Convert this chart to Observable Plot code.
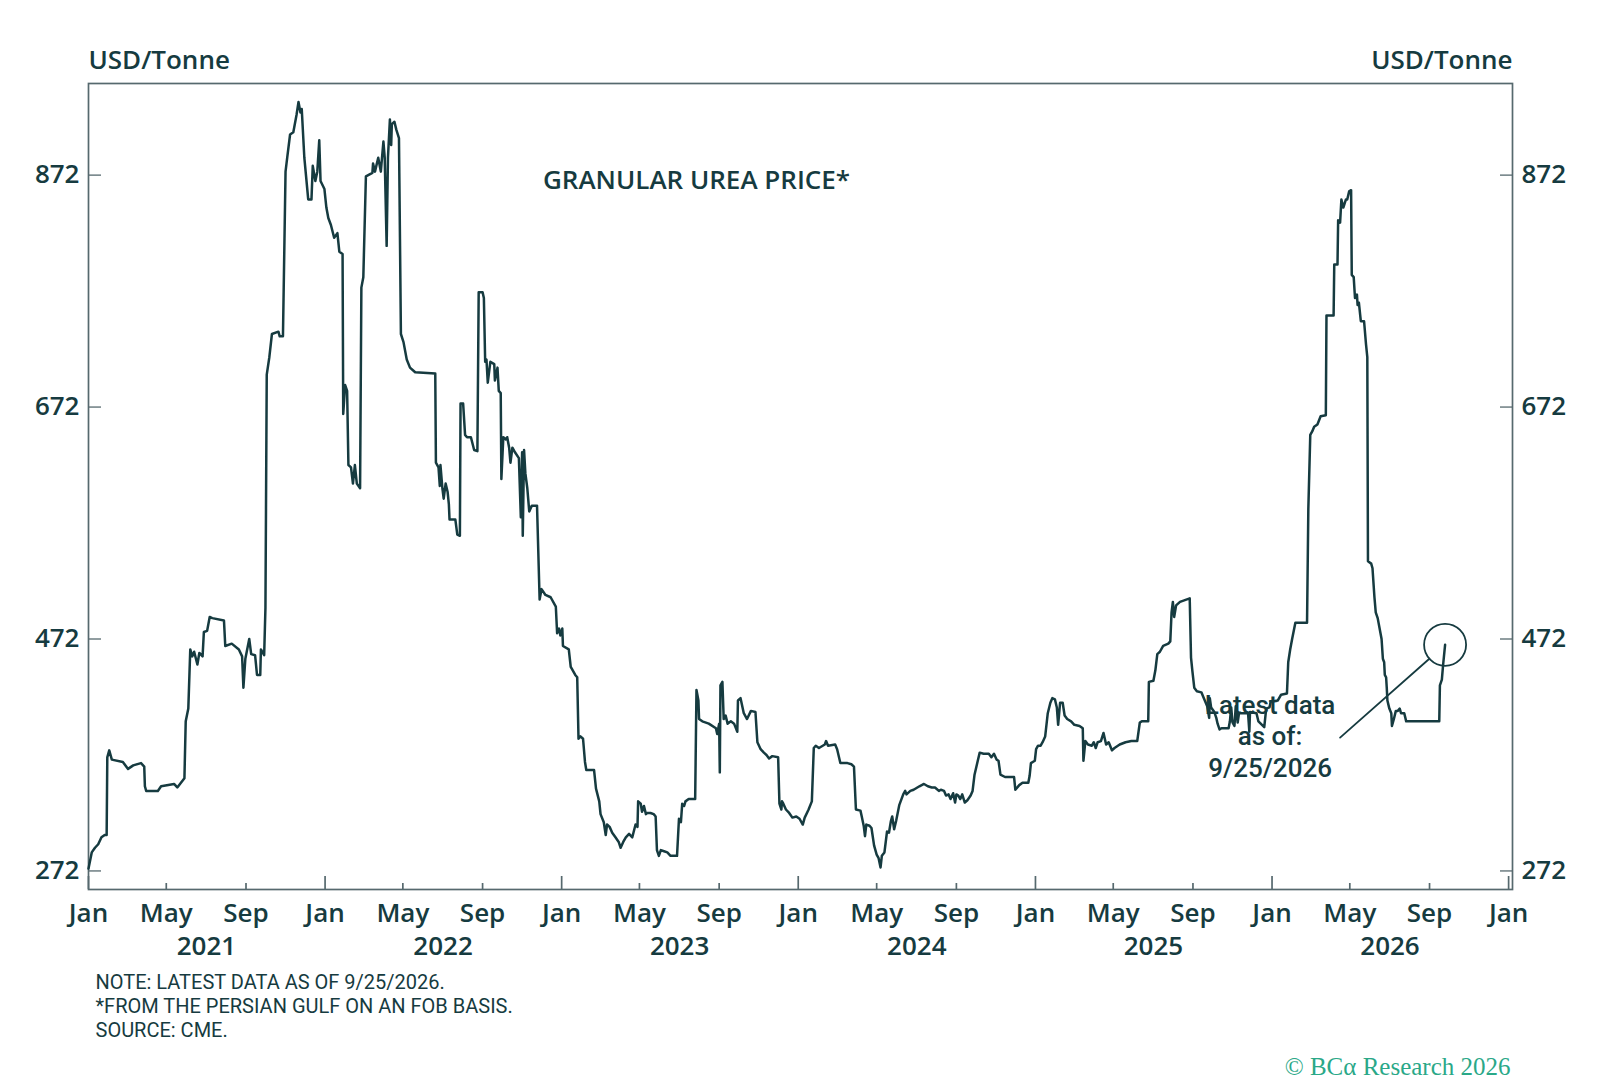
<!DOCTYPE html>
<html>
<head>
<meta charset="utf-8">
<script src="https://cdn.jsdelivr.net/npm/d3@7"></script>
<script src="https://cdn.jsdelivr.net/npm/@observablehq/plot@0.6"></script>
<style>
  html, body { margin: 0; padding: 0; background: #ffffff; }
  #chart { width: 1600px; height: 1080px; }
</style>
</head>
<body>
<div id="chart"></div>
<script>
// ---------- DATA ----------
const md2021 = ["01-01","01-06","01-11","01-16","01-21","01-26","01-29","01-30","02-02","02-06",
  "02-23","03-03","03-11","03-23","03-28","03-29","03-31","04-18","04-23","05-13",
  "05-18","05-29","05-31","06-04","06-07","06-10","06-13","06-18","06-21","06-26",
  "06-28","07-03","07-07","07-11","07-29","07-31","08-10","08-21","08-26","08-28",
  "08-31","09-06","09-09","09-15","09-18","09-23","09-24","09-29","10-01","10-03",
  "10-07","10-11","10-21","10-23","10-28","11-01","11-04","11-08","11-13","11-18",
  "11-21","11-24","11-26","11-30","12-06","12-11","12-13","12-17","12-20","12-23",
  "12-25","12-31"];
const usd2021 = [274,288,292,295,301,303,303,370,376,368,
  366,360,363,365,362,345,341,341,345,347,
  344,352,401,412,463,457,461,450,460,457,
  478,479,491,490,488,466,468,463,457,430,
  455,472,459,458,441,441,463,458,499,700,
  715,735,737,733,733,875,889,907,909,924,
  935,926,929,887,851,851,880,867,875,902,
  867,860];

const md2022 = ["01-03","01-06","01-10","01-15","01-20","01-23","01-28","01-29","02-01","02-04",
  "02-06","02-10","02-13","02-16","02-19","02-24","02-26","03-01","03-05","03-15",
  "03-16","03-19","03-24","03-28","04-01","04-03","04-06","04-08","04-11","04-13",
  "04-14","04-18","04-21","04-25","04-28","05-02","05-07","05-12","05-20","06-20",
  "06-21","06-25","06-27","06-28","07-01","07-03","07-06","07-09","07-11","07-12",
  "07-21","07-24","07-28","07-29","08-02","08-05","08-08","08-14","08-19","08-24",
  "08-26","09-01","09-03","09-05","09-07","09-09","09-13","09-19","09-20","09-24",
  "09-26","09-29","09-30","10-03","10-07","10-09","10-12","10-14","10-17","10-21",
  "10-27","10-30","11-01","11-02","11-04","11-06","11-09","11-12","11-16","11-24",
  "11-28","12-01","12-07","12-15","12-23","12-25","12-28","12-30"];
const usd2022 = [844,835,829,818,822,806,804,666,691,686,
  622,620,606,622,606,602,775,784,871,874,
  882,875,887,875,901,887,811,887,920,898,
  916,918,911,904,735,728,713,706,702,701,
  624,620,604,622,602,593,606,599,588,575,
  575,562,561,675,675,648,646,646,635,634,
  771,771,766,711,713,693,711,709,695,706,
  686,684,610,646,644,646,637,624,637,633,
  628,577,633,561,635,615,602,582,587,587,
  506,515,510,508,500,477,481,475];

const md2023 = ["01-02","01-03","01-12","01-15","01-17","01-22","01-25","01-27","01-30","02-03",
  "02-06","02-08","02-20","02-23","02-28","03-02","03-07","03-10","03-12","03-16",
  "03-20","03-25","03-30","04-02","04-06","04-10","04-15","04-20","04-25","04-28",
  "04-29","05-03","05-05","05-08","05-11","05-13","05-18","05-23","05-26","05-28",
  "05-31","06-03","06-08","06-13","06-18","06-28","07-01","07-04","07-06","07-09",
  "07-11","07-16","07-26","07-28","07-31","08-01","08-06","08-16","08-27","08-29",
  "09-01","09-02","09-03","09-06","09-08","09-11","09-14","09-19","09-24","09-29",
  "09-30","10-04","10-09","10-14","10-20","10-27","10-30","11-04","11-09","11-13",
  "11-17","11-22","12-01","12-03","12-06","12-07","12-09","12-13","12-18","12-23",
  "12-29"];
const usd2023 = [481,466,463,448,446,441,439,386,388,386,
  366,359,359,343,332,321,314,303,312,310,
  305,301,297,292,297,301,304,301,312,310,
  332,330,323,328,321,322,322,321,319,290,
  285,290,289,288,285,285,317,314,330,328,
  332,334,334,428,419,403,401,399,395,390,
  399,357,432,435,403,406,399,401,399,392,
  419,421,408,403,410,409,383,377,374,372,
  369,371,370,330,325,332,330,325,322,318,
  319];

const md2024 = ["01-03","01-08","01-11","01-17","01-22","01-25","01-28","02-02","02-11","02-13",
  "02-16","02-27","03-01","03-06","03-17","03-23","03-27","03-30","04-06","04-08",
  "04-11","04-13","04-15","04-20","04-23","04-27","05-01","05-04","05-07","05-09",
  "05-13","05-17","05-20","05-23","05-25","05-28","05-31","06-05","06-11","06-14",
  "06-16","06-22","06-27","07-06","07-13","07-19","07-25","07-30","08-05","08-08",
  "08-13","08-16","08-20","08-23","08-27","08-30","09-01","09-04","09-07","09-10",
  "09-14","09-18","09-23","09-26","09-29","10-04","10-07","10-13","10-21","10-25",
  "10-29","11-02","11-05","11-08","11-15","11-29","12-01","12-07","12-12","12-21",
  "12-23","12-25","12-31"];
const usd2024 = [317,312,318,325,332,378,380,378,381,384,
  380,381,377,365,365,364,362,325,324,319,
  311,302,312,311,309,294,286,283,275,285,
  288,306,305,315,319,308,315,329,338,341,
  338,341,342,345,347,345,344,344,341,342,
  341,337,338,334,339,331,338,337,334,338,
  331,333,337,341,355,367,374,373,373,370,
  373,368,367,355,353,353,342,346,348,348,
  354,365,367];

const md2025 = ["01-02","01-05","01-09","01-12","01-16","01-20","01-24","01-27","01-31","02-03",
  "02-05","02-08","02-12","02-15","02-19","02-25","03-02","03-10","03-15","03-16",
  "03-19","03-23","03-29","04-01","04-04","04-07","04-12","04-16","04-20","04-24",
  "04-29","05-03","05-11","05-20","05-29","06-07","06-11","06-14","06-24","06-25",
  "07-02","07-05","07-08","07-12","07-17","07-25","07-28","07-30","08-01","08-03",
  "08-06","08-12","08-27","08-29","08-31","09-03","09-07","09-14","09-17","09-23",
  "09-26","09-27","09-29","10-04","10-07","10-09","10-12","10-15","10-26","10-28",
  "10-30","11-01","11-04","11-06","11-09","11-11","11-25","11-27","11-28","12-08",
  "12-11","12-20","12-23","12-28","12-30"];
const usd2025 = [377,380,380,383,388,408,417,421,420,413,
  398,417,417,406,403,401,398,397,395,367,
  384,381,380,383,378,383,384,391,381,383,
  376,378,381,383,384,384,400,401,401,435,
  436,445,459,461,466,468,470,495,504,491,
  501,504,507,456,445,430,427,426,422,414,
  404,421,413,409,404,399,394,395,395,401,
  413,400,397,414,400,408,408,392,409,408,
  401,396,412,413,418];

const md2026 = ["01-10","01-15","01-24","01-26","01-29","02-01","02-06","02-24","02-26","03-01",
  "03-04","03-07","03-12","03-17","03-25","03-26","04-06","04-07","04-12","04-13",
  "04-16","04-18","04-21","04-25","04-27","04-30","05-03","05-04","05-07","05-09",
  "05-12","05-13","05-15","05-18","05-23","05-26","05-28","05-29","06-03","06-05",
  "06-08","06-10","06-13","06-19","06-21","06-23","06-24","06-26","06-27","06-28",
  "07-01","07-04","07-05","07-08","07-11","07-14","07-17","07-19","07-24","07-27",
  "09-16","09-17","09-20","09-22","09-25"];
const usd2026 = [419,424,425,452,463,472,486,486,584,648,
  651,655,657,664,665,751,751,795,795,833,
  831,851,844,851,851,858,859,786,784,766,
  769,760,762,746,746,726,715,539,537,533,
  508,495,490,472,455,452,441,439,430,419,
  412,408,397,403,410,410,412,408,408,401,
  401,432,437,450,467];

// axis ticks and labels
const yTicks = [272, 472, 672, 872];
const xTickDates = ["2021-01-01","2021-05-01","2021-09-01","2022-01-01","2022-05-01","2022-09-01",
  "2023-01-01","2023-05-01","2023-09-01","2024-01-01","2024-05-01","2024-09-01",
  "2025-01-01","2025-05-01","2025-09-01","2026-01-01","2026-05-01","2026-09-01","2027-01-01"];
const xTickLabels = ["Jan","May","Sep","Jan","May","Sep","Jan","May","Sep","Jan","May","Sep",
  "Jan","May","Sep","Jan","May","Sep","Jan"];
const years = ["2021","2022","2023","2024","2025","2026"];

// texts
const unitLabel = "USD/Tonne";
const chartTitle = "GRANULAR UREA PRICE*";
const noteText = "Latest data\nas of:\n9/25/2026";
const footNotes = ["NOTE: LATEST DATA AS OF 9/25/2026.", "*FROM THE PERSIAN GULF ON AN FOB BASIS.", "SOURCE: CME."];
const copyright = "\u00A9 BC\u03B1 Research 2026";

// annotation anchors (data space)
const noteLineFrom = {date: "2026-04-16", value: 387};
const noteTextAt = {date: "2025-12-29", value: 389};

// ---------- BUILD ----------
const byYear = [[2021, md2021, usd2021], [2022, md2022, usd2022], [2023, md2023, usd2023],
  [2024, md2024, usd2024], [2025, md2025, usd2025], [2026, md2026, usd2026]];
const series = byYear.flatMap(([yr, mds, vals]) =>
  mds.map((md, i) => ({date: new Date(`${yr}-${md}T00:00:00Z`), value: vals[i]})));
const last = series[series.length - 1];

const ticksAll = xTickDates.map(d => new Date(d + "T00:00:00Z"));
const labelByTime = new Map(ticksAll.map((d, i) => [+d, xTickLabels[i]]));
const janTicks = ticksAll.filter(d => d.getUTCMonth() === 0);
const midTicks = ticksAll.filter(d => d.getUTCMonth() !== 0);

const INK = "#163b40";
const FRAME = "#56696e";
const FONT = "'Open Sans', 'Noto Sans', sans-serif";
const FONT_TIGHT = "Roboto, 'Open Sans', sans-serif";

const plot = Plot.plot({
  width: 1600,
  height: 1080,
  marginLeft: 88,
  marginRight: 88,
  marginTop: 83,
  marginBottom: 191,
  style: {fontFamily: FONT, fontSize: "26px", color: INK, background: "#ffffff", overflow: "visible"},
  x: {type: "utc", domain: [new Date("2021-01-01T00:00:00Z"), new Date("2027-01-07T00:00:00Z")]},
  y: {domain: [256, 951]},
  marks: [
    Plot.frame({stroke: FRAME, strokeWidth: 1.7}),
    Plot.line(series, {x: "date", y: "value", stroke: INK, strokeWidth: 2.5, strokeLinejoin: "round"}),
    // y ticks (inward) and labels, both sides
    Plot.axisY({ticks: yTicks, anchor: "left", tickSize: -13, tickFormat: () => "", label: null, stroke: FRAME, strokeWidth: 1.3}),
    Plot.axisY({ticks: yTicks, anchor: "right", tickSize: -13, tickFormat: () => "", label: null, stroke: FRAME, strokeWidth: 1.3}),
    Plot.axisY({ticks: yTicks, anchor: "left", tickSize: 0, tickPadding: 9, label: null, fontSize: 26, fontWeight: 600, fill: INK}),
    Plot.axisY({ticks: yTicks, anchor: "right", tickSize: 0, tickPadding: 9, label: null, fontSize: 26, fontWeight: 600, fill: INK}),
    // x ticks (inward): long for January, short for May / September
    Plot.axisX({ticks: janTicks, anchor: "bottom", tickSize: -13, tickFormat: () => "", label: null, stroke: FRAME, strokeWidth: 1.7}),
    Plot.axisX({ticks: midTicks, anchor: "bottom", tickSize: -6, tickFormat: () => "", label: null, stroke: FRAME, strokeWidth: 1.7}),
    Plot.axisX({ticks: ticksAll, anchor: "bottom", tickSize: 0, tickPadding: 14, tickFormat: d => labelByTime.get(+d), label: null, fontSize: 26, fontWeight: 600, fill: INK}),
    Plot.text(years, {x: d => new Date(`${d}-07-02T00:00:00Z`), frameAnchor: "bottom", lineAnchor: "top", dy: 47, text: d => d, fontSize: 26, fontWeight: 600, fill: INK}),
    // unit labels and title
    Plot.text([unitLabel], {frameAnchor: "top-left", textAnchor: "start", lineAnchor: "middle", dy: -23, fontSize: 26, fontWeight: 600, fill: INK}),
    Plot.text([unitLabel], {frameAnchor: "top-right", textAnchor: "end", lineAnchor: "middle", dy: -23, fontSize: 26, fontWeight: 600, fill: INK}),
    Plot.text([chartTitle], {frameAnchor: "top-left", textAnchor: "middle", lineAnchor: "middle", dx: 608, dy: 97, fontSize: 26, fontWeight: 600, fill: INK}),
    // annotation
    Plot.dot([last], {x: "date", y: "value", r: 21, stroke: INK, strokeWidth: 1.8, fill: "none"}),
    Plot.arrow([noteLineFrom], {
      x1: d => new Date(d.date + "T00:00:00Z"), y1: "value",
      x2: () => last.date, y2: () => last.value,
      bend: 0, headLength: 0, insetEnd: 21, stroke: INK, strokeWidth: 1.8
    }),
    Plot.text([noteTextAt], {x: d => new Date(d.date + "T00:00:00Z"), y: "value", text: () => noteText,
      textAnchor: "middle", lineAnchor: "middle", lineHeight: 1.22, fontSize: 26, fontWeight: 500,
      fontFamily: FONT_TIGHT, fill: INK}),
    // footnotes and credit
    Plot.text([footNotes.join("\n")], {frameAnchor: "bottom-left", textAnchor: "start", lineAnchor: "top",
      dx: 7, dy: 82, lineHeight: 1.2, fontSize: 20, fontFamily: FONT_TIGHT, fill: INK}),
    Plot.text([copyright], {frameAnchor: "bottom-right", textAnchor: "end", lineAnchor: "middle",
      dx: -2, dy: 177, fontSize: 25, fontFamily: "'Liberation Serif', 'DejaVu Serif', serif", fill: "#2aa888"})
  ]
});

document.getElementById("chart").appendChild(plot);
</script>
</body>
</html>
